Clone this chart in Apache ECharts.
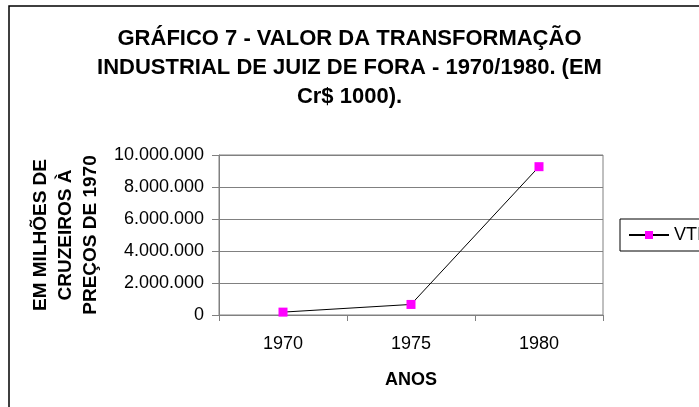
<!DOCTYPE html>
<html>
<head>
<meta charset="utf-8">
<script src="https://cdn.jsdelivr.net/npm/echarts@6/dist/echarts.min.js"></script>
<style>
  html, body { margin: 0; padding: 0; background: #fff; }
  #chart { width: 699px; height: 407px; }
</style>
</head>
<body>
<div id="chart"></div>
<script>
const anos = ['1970', '1975', '1980']
const vti = [180000, 660000, 9270000]
const yTicks = { min: 0, max: 10000000, interval: 2000000 }

const formatBr = (v) => String(v).replace(/\B(?=(\d{3})+(?!\d))/g, '.')

const chart = echarts.init(document.getElementById('chart'))
chart.setOption({
  backgroundColor: '#fff',
  animation: false,
  textStyle: { fontFamily: 'Liberation Sans, Arial, sans-serif' },
  title: {
    text: 'GRÁFICO 7 - VALOR DA TRANSFORMAÇÃO\nINDUSTRIAL DE JUIZ DE FORA - 1970/1980. (EM\nCr$ 1000).',
    left: 'center',
    top: 19,
    textStyle: { fontSize: 22, fontWeight: 'bold', color: '#000', lineHeight: 29 }
  },
  graphic: [{
    type: 'rect',
    shape: { x: 9, y: 6, width: 800, height: 500 },
    style: { fill: 'none', stroke: '#000', lineWidth: 1.5 },
    silent: true
  }],
  legend: {
    data: ['VTI'],
    left: 620,
    top: 219,
    orient: 'vertical',
    borderColor: '#000',
    borderWidth: 1,
    borderRadius: 0,
    padding: [7, 8],
    itemWidth: 40,
    itemHeight: 10,
    textStyle: { fontSize: 18, color: '#000' }
  },
  grid: { left: 219, right: 96, top: 155, bottom: 92, show: true, borderColor: '#808080', borderWidth: 1 },
  xAxis: {
    type: 'category',
    data: anos,
    boundaryGap: true,
    name: 'ANOS',
    nameLocation: 'middle',
    nameGap: 56,
    nameTextStyle: { fontSize: 18, fontWeight: 'bold', color: '#000' },
    axisLine: { lineStyle: { color: '#808080' } },
    axisTick: { show: true, length: 6, lineStyle: { color: '#808080' } },
    axisLabel: { fontSize: 18, color: '#000', margin: 20 }
  },
  yAxis: {
    type: 'value',
    min: yTicks.min,
    max: yTicks.max,
    interval: yTicks.interval,
    name: 'EM MILHÕES DE\nCRUZEIROS À\nPREÇOS DE 1970',
    nameLocation: 'middle',
    nameGap: 112,
    nameRotate: 90,
    nameTextStyle: { fontSize: 19, fontWeight: 'bold', color: '#000', lineHeight: 25, align: 'center' },
    axisLine: { show: true, lineStyle: { color: '#808080' } },
    axisTick: { show: true, length: 7, lineStyle: { color: '#808080' } },
    axisLabel: { fontSize: 18, color: '#000', margin: 15, formatter: formatBr },
    splitLine: { show: true, lineStyle: { color: '#808080', width: 1 } }
  },
  series: [{
    name: 'VTI',
    type: 'line',
    data: vti,
    symbol: 'rect',
    symbolSize: 9,
    itemStyle: { color: '#ff00ff' },
    lineStyle: { color: '#000', width: 1 }
  }]
})
</script>
</body>
</html>
